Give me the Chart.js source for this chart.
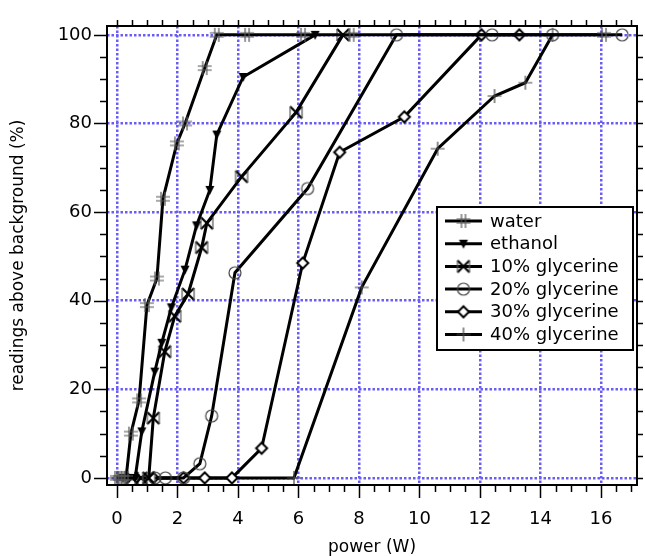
<!DOCTYPE html>
<html>
<head>
<meta charset="utf-8">
<script src="https://cdn.jsdelivr.net/npm/chart.js@4/dist/chart.umd.min.js"></script>
<style>
  html, body { margin: 0; padding: 0; background: #fff; }
  #wrap { width: 645px; height: 556px; }
</style>
</head>
<body>
<div id="wrap"><canvas id="c" width="645" height="556"></canvas></div>
<script>
// series labels
const seriesNames = ["water", "ethanol", "10% glycerine", "20% glycerine", "30% glycerine", "40% glycerine"];

// values (power in W, readings in %)
const waterX = [0, 0.1, 0.2, 0.3, 0.46, 0.73, 0.99, 1.32, 1.52, 1.98, 2.25, 2.9, 3.3, 4.3, 6.15, 7.76, 16.1];
const waterY = [0, 0, 0, 0, 10, 17.5, 39, 45, 63, 75.5, 80, 92.5, 100, 100, 100, 100, 100];
const ethanolX = [0.2, 0.4, 0.6, 0.82, 1.25, 1.48, 1.8, 2.25, 2.63, 3.07, 3.3, 4.17, 6.55];
const ethanolY = [0, 0, 0, 10.5, 24, 30.5, 38.5, 47, 57, 65, 77.5, 90.5, 100];
const gly10X = [0.5, 0.8, 1.05, 1.2, 1.58, 1.91, 2.35, 2.8, 2.97, 4.12, 5.92, 7.47];
const gly10Y = [0, 0, 0, 13.5, 28.5, 36.5, 41.5, 52, 57.5, 68, 82.5, 100];
const gly20X = [1.25, 1.6, 2.2, 2.74, 3.13, 3.9, 6.3, 9.24, 12.4, 14.4, 16.7];
const gly20Y = [0, 0, 0, 3.2, 14, 46.3, 65.3, 100, 100, 100, 100];
const gly30X = [1.2, 2.2, 2.9, 3.8, 4.78, 6.14, 7.36, 9.5, 12.05, 13.3];
const gly30Y = [0, 0, 0, 0, 6.7, 48.5, 73.5, 81.5, 100, 100];
const gly40X = [0, 0.3, 5.85, 8.09, 10.6, 12.48, 13.5, 14.4];
const gly40Y = [0, 0, 0, 43, 74.3, 86.2, 89.2, 100];

// axis ticks
const xTicks = [0, 2, 4, 6, 8, 10, 12, 14, 16];
const yTicks = [0, 20, 40, 60, 80, 100];

function pts(xs, ys) { return xs.map((x, i) => ({ x: x, y: ys[i] })); }

function marker(size, draw) {
  const c = document.createElement("canvas");
  c.width = size; c.height = size;
  const g = c.getContext("2d");
  g.translate(size / 2, size / 2);
  draw(g);
  return c;
}

const mWater = marker(18, g => {
  g.strokeStyle = "#555"; g.lineWidth = 1.2;
  g.beginPath();
  g.moveTo(-2, -7); g.lineTo(-2, 7); g.moveTo(2, -7); g.lineTo(2, 7);
  g.moveTo(-7, -2); g.lineTo(7, -2); g.moveTo(-7, 2); g.lineTo(7, 2);
  g.stroke();
});
const mEthanol = marker(14, g => {
  g.fillStyle = "#000";
  g.beginPath(); g.moveTo(-4.5, -4); g.lineTo(4.5, -4); g.lineTo(0, 5); g.closePath(); g.fill();
});
const mGly10 = marker(18, g => {
  g.strokeStyle = "#000"; g.lineWidth = 2.2;
  g.beginPath(); g.moveTo(-6, -6); g.lineTo(6, 6); g.moveTo(-6, 6); g.lineTo(6, -6); g.stroke();
  g.strokeStyle = "#555"; g.lineWidth = 1.2;
  g.beginPath(); g.moveTo(-6, -6); g.lineTo(-6, 6); g.moveTo(6, -6); g.lineTo(6, 6); g.stroke();
});
const mGly20 = marker(18, g => {
  g.strokeStyle = "#444"; g.lineWidth = 1.2;
  g.beginPath(); g.arc(0, 0, 6, 0, Math.PI * 2); g.stroke();
});
const mGly30 = marker(18, g => {
  g.fillStyle = "#fff"; g.strokeStyle = "#000"; g.lineWidth = 2;
  g.beginPath(); g.moveTo(0, -5.5); g.lineTo(5.5, 0); g.lineTo(0, 5.5); g.lineTo(-5.5, 0); g.closePath();
  g.fill(); g.stroke();
});
const mGly40 = marker(18, g => {
  g.strokeStyle = "#444"; g.lineWidth = 1.2;
  g.beginPath(); g.moveTo(-7, 0); g.lineTo(7, 0); g.moveTo(0, -7); g.lineTo(0, 7); g.stroke();
});
const markers = [mWater, mEthanol, mGly10, mGly20, mGly30, mGly40];

const series = [pts(waterX, waterY), pts(ethanolX, ethanolY), pts(gly10X, gly10Y),
                pts(gly20X, gly20Y), pts(gly30X, gly30Y), pts(gly40X, gly40Y)];

const datasets = series.map((d, i) => ({
  label: seriesNames[i],
  data: d,
  showLine: true,
  borderColor: "#000",
  borderWidth: 3,
  pointStyle: markers[i],
  pointRadius: 5,
  fill: false,
  tension: 0,
}));

const FONT = "DejaVu Sans";
const gridBlue = "#6a5cf6";

// frame, outward ticks and legend box
const framePlugin = {
  id: "frame",
  afterDatasetsDraw(chart) {
    const ctx = chart.ctx, a = chart.chartArea;
    const xs = chart.scales.x, ys = chart.scales.y;
    ctx.save();
    ctx.strokeStyle = "#000";
    ctx.lineWidth = 1.5;
    ctx.beginPath();
    for (let v = 0; v <= 17.2; v += 0.5) {
      const px = Math.round(xs.getPixelForValue(v)) + 0.5;
      const major = Math.abs(v % 2) < 1e-6;
      ctx.moveTo(px, a.bottom); ctx.lineTo(px, a.bottom + (major ? 13 : 7));
      ctx.moveTo(px, a.top); ctx.lineTo(px, a.top - 6);
    }
    for (let v = 0; v <= 100; v += 5) {
      const py = Math.round(ys.getPixelForValue(v)) + 0.5;
      const major = v % 20 === 0;
      ctx.moveTo(a.left, py); ctx.lineTo(a.left - (major ? 13 : 7), py);
      ctx.moveTo(a.right, py); ctx.lineTo(a.right + 6, py);
    }
    ctx.stroke();
    ctx.lineWidth = 2;
    ctx.strokeRect(a.left, a.top, a.right - a.left, a.bottom - a.top);
    ctx.restore();
  },
  afterDraw(chart) {
    const ctx = chart.ctx;
    const bx = 437, by = 207, bw = 196, bh = 143, row = 22.7;
    ctx.save();
    ctx.fillStyle = "#fff";
    ctx.fillRect(bx, by, bw, bh);
    ctx.strokeStyle = "#000"; ctx.lineWidth = 2;
    ctx.strokeRect(bx, by, bw, bh);
    ctx.font = "18px '" + FONT + "'";
    ctx.textBaseline = "middle";
    ctx.fillStyle = "#000";
    seriesNames.forEach((name, i) => {
      const y = by + 14 + i * row;
      ctx.lineWidth = 3;
      ctx.beginPath(); ctx.moveTo(445, y); ctx.lineTo(482, y); ctx.stroke();
      const m = markers[i];
      ctx.drawImage(m, 463.5 - m.width / 2, y - m.height / 2);
      ctx.fillText(name, 490, y + 1);
    });
    ctx.restore();
  },
};

new Chart(document.getElementById("c"), {
  type: "scatter",
  data: { datasets: datasets },
  options: {
    responsive: false,
    animation: false,
    layout: { padding: { left: 0, top: 26, right: 7, bottom: 0 } },
    plugins: { legend: { display: false }, tooltip: { enabled: false } },
    scales: {
      x: {
        type: "linear",
        min: -0.33, max: 17.19,
        afterFit: s => { s.height = 71; },
        afterBuildTicks: s => { s.ticks = xTicks.map(v => ({ value: v })); },
        grid: { color: gridBlue, lineWidth: 2.5, drawTicks: false },
        border: { display: false, dash: [2.5, 2] },
        ticks: { padding: 24, color: "#000", font: { family: FONT, size: 18 }, includeBounds: false },
        title: { display: true, text: "power (W)", color: "#000", font: { family: FONT, size: 17, lineHeight: 1 }, padding: { top: 0, bottom: 0 } },
      },
      y: {
        type: "linear",
        min: -1.6, max: 102,
        afterFit: s => { s.width = 107; },
        afterBuildTicks: s => { s.ticks = yTicks.map(v => ({ value: v })); },
        grid: { color: gridBlue, lineWidth: 2.5, drawTicks: false },
        border: { display: false, dash: [2.5, 2] },
        ticks: { padding: 15, color: "#000", font: { family: FONT, size: 18 }, includeBounds: false },
        title: { display: true, text: "readings above background (%)", color: "#000", font: { family: FONT, size: 17 }, padding: { top: 8, bottom: 0 } },
      },
    },
  },
  plugins: [framePlugin],
});
</script>
</body>
</html>
